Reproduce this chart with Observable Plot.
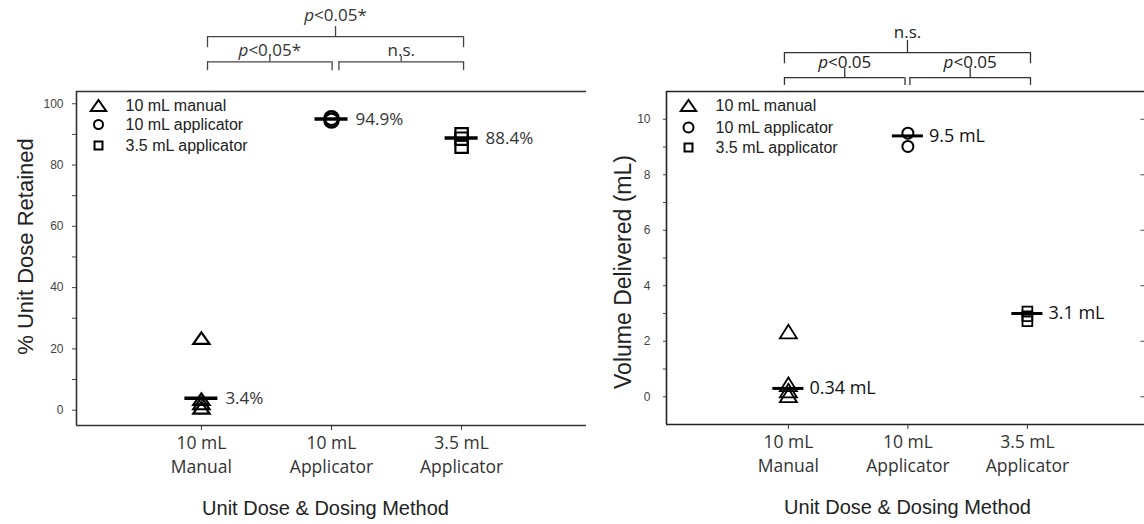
<!DOCTYPE html>
<html>
<head>
<meta charset="utf-8">
<script src="https://cdn.jsdelivr.net/npm/d3@7"></script>
<script src="https://cdn.jsdelivr.net/npm/@observablehq/plot@0.6"></script>
<style>
  html, body { margin: 0; padding: 0; background: #fff; }
  #wrap { position: relative; width: 1144px; height: 524px; overflow: hidden; background: #fff; }
  #left { position: absolute; left: 0; top: 0; }
  #right { position: absolute; left: 600px; top: 0; }
</style>
</head>
<body>
<div id="wrap"><div id="left"></div><div id="right"></div></div>
<script>
// ---------------- DATA ----------------
const categories = ["10 mL\nManual", "10 mL\nApplicator", "3.5 mL\nApplicator"];
const groupNames = ["10 mL manual", "10 mL applicator", "3.5 mL applicator"];
const groupSymbols = ["triangle", "circle", "square"];

// Left panel: % unit dose retained (individual replicates)
const retainedManual10 = [23.5, 3.6, 2.2, 0.8];
const retainedApplicator10 = [95.3, 94.5];
const retainedApplicator35 = [90.0, 88.6, 86.0];
const retainedMeans = [3.9, 95.0, 88.8];
const retainedMeanLabels = ["3.4%", "94.9%", "88.4%"];
const retainedTicks = [0, 20, 40, 60, 80, 100];
const retainedMinorTicks = [10, 30, 50, 70, 90];
const retainedTitle = "% Unit Dose Retained";

// Right panel: volume delivered (mL)
const deliveredManual10 = [2.35, 0.45, 0.22, 0.05];
const deliveredApplicator10 = [9.5, 9.02];
const deliveredApplicator35 = [3.07, 2.9, 2.72];
const deliveredMeans = [0.3, 9.4, 3.0];
const deliveredMeanLabels = ["0.34 mL", "9.5 mL", "3.1 mL"];
const deliveredTicks = [0, 2, 4, 6, 8, 10];
const deliveredMinorTicks = [1, 3, 5, 7, 9];
const deliveredTitle = "Volume Delivered (mL)";

const xTitle = "Unit Dose & Dosing Method";

// Significance brackets: categories compared (1-based), tier, label
const retainedBrackets = [
  {a: 1, b: 3, tier: 2, label: "p<0.05*"},
  {a: 1, b: 2, tier: 1, label: "p<0.05*"},
  {a: 2, b: 3, tier: 1, label: "n.s."}
];
const deliveredBrackets = [
  {a: 1, b: 3, tier: 2, label: "n.s."},
  {a: 1, b: 2, tier: 1, label: "p<0.05"},
  {a: 2, b: 3, tier: 1, label: "p<0.05"}
];

// ---------------- DRAWING ----------------
const wideTriangle = (k) => ({
  draw(ctx, size) {
    const r = Math.sqrt(size / Math.PI);
    ctx.moveTo(0, -r);
    ctx.lineTo(r * k, r);
    ctx.lineTo(-r * k, r);
    ctx.closePath();
  }
});

function symbolFor(name, k) {
  return name === "triangle" ? wideTriangle(k) : name;
}

function buildPanel(cfg) {
  const groups = [cfg.g1, cfg.g2, cfg.g3];
  const marks = [];

  // frame lines (top, bottom, left)
  marks.push(Plot.ruleY([cfg.yDomain[0], cfg.yDomain[1]], {stroke: cfg.frameColor, strokeWidth: 1.4}));
  marks.push(Plot.ruleX([cfg.xDomain[0]], {stroke: cfg.frameColor, strokeWidth: 1.6}));

  // axes
  marks.push(Plot.axisY({ticks: cfg.yTicks, tickSize: cfg.yTickSize, tickPadding: cfg.yTickPadding,
    fontSize: 12, fontFamily: "Liberation Sans", color: "#444", label: null}));
  marks.push(Plot.axisY({ticks: cfg.yMinor, tickSize: cfg.yTickSize, tickFormat: () => "", color: "#444", label: null}));
  marks.push(Plot.axisX({ticks: [1, 2, 3], tickFormat: d => categories[d - 1], tickSize: 5, tickPadding: 1,
    fontSize: 17.5, fontFamily: "Open Sans", lineHeight: 1.4, color: "#333", label: null}));
  if (cfg.rightTicks) {
    marks.push(Plot.ruleY(cfg.yTicks, {y: d => d, x1: cfg.xDomain[1] - 0.03, x2: cfg.xDomain[1], stroke: "#444", strokeWidth: 1}));
  }

  // data points
  groups.forEach((vals, i) => {
    const st = cfg.sym[i];
    marks.push(Plot.dot(vals.map(v => ({pos: i + 1, value: v})), {
      x: "pos", y: "value", symbol: symbolFor(groupSymbols[i], st.k), r: st.r,
      stroke: "black", strokeWidth: st.sw, fill: "none"
    }));
  });

  // mean lines and labels
  const means = cfg.means.map((v, i) => ({pos: i + 1, value: v, label: cfg.meanLabels[i]}));
  marks.push(Plot.ruleY(means, {y: "value", x1: d => d.pos - cfg.meanHalf, x2: d => d.pos + cfg.meanHalf,
    stroke: "black", strokeWidth: cfg.meanWidth}));
  marks.push(Plot.text(means, {x: "pos", y: "value", text: "label", dx: cfg.meanDx, textAnchor: "start",
    lineAnchor: "middle", fontSize: cfg.meanFont, fontFamily: "Open Sans", fill: cfg.meanColor}));

  // legend
  groupNames.forEach((name, i) => {
    const ls = cfg.legendSym[i];
    marks.push(Plot.dot([name], {frameAnchor: "top-left", dx: cfg.legend.sx, dy: cfg.legend.dy[i],
      symbol: symbolFor(groupSymbols[i], ls.k), r: ls.r, stroke: "black", strokeWidth: 2, fill: "none"}));
    marks.push(Plot.text([name], {frameAnchor: "top-left", dx: cfg.legend.tx, dy: cfg.legend.dy[i], text: d => d,
      textAnchor: "start", lineAnchor: "middle", fontSize: cfg.legend.font, fontFamily: "Liberation Sans", fill: "#222"}));
  });

  // brackets
  const br = cfg.brackets.map(b => {
    const sameTier = cfg.brackets.filter(o => o !== b && o.tier === b.tier);
    const sharedStart = sameTier.some(o => o.b === b.a);
    const sharedEnd = sameTier.some(o => o.a === b.b);
    const x1 = b.a + cfg.bs.start + (sharedStart ? cfg.bs.gap : 0);
    const x2 = b.b + cfg.bs.end - (sharedEnd ? cfg.bs.gap : 0);
    const t = cfg.tiers[b.tier];
    return {x1, x2, xc: (x1 + x2) / 2, line: t.line, end: t.end, tick: t.tick, textY: t.textY, label: b.label};
  });
  const ends = br.flatMap(b => [{x: b.x1, y1: b.line, y2: b.end}, {x: b.x2, y1: b.line, y2: b.end}]);
  marks.push(Plot.ruleY(br, {y: "line", x1: "x1", x2: "x2", stroke: cfg.bracketColor, strokeWidth: 1.3}));
  marks.push(Plot.ruleX(ends, {x: "x", y1: "y1", y2: "y2", stroke: cfg.bracketColor, strokeWidth: 1.3}));
  marks.push(Plot.ruleX(br, {x: "xc", y1: "line", y2: "tick", stroke: cfg.bracketColor, strokeWidth: 1.3}));
  marks.push(Plot.text(br, {x: "xc", y: "textY", text: "label", textAnchor: "middle", lineAnchor: "middle",
    fontSize: 17, fontFamily: "Open Sans", fill: cfg.bracketText}));

  // axis titles
  marks.push(Plot.text([xTitle], {frameAnchor: "bottom", dx: cfg.xTitleDx, dy: 83, text: d => d,
    textAnchor: "middle", lineAnchor: "middle", fontSize: 20, fontFamily: "Liberation Sans", fill: "#222"}));
  marks.push(Plot.text([cfg.yTitle], {frameAnchor: "left", rotate: -90, dx: cfg.yTitleDx, dy: cfg.yTitleDy, text: d => d,
    textAnchor: "middle", lineAnchor: "middle", fontSize: cfg.yTitleFont, fontFamily: "Liberation Sans", fill: "#222"}));

  const svg = Plot.plot({
    width: cfg.width, height: 524,
    marginLeft: cfg.margin[0], marginRight: cfg.margin[1], marginTop: cfg.margin[2], marginBottom: cfg.margin[3],
    x: {type: "linear", domain: cfg.xDomain},
    y: {type: "linear", domain: cfg.yDomain},
    style: {background: "transparent", overflow: "visible"},
    marks
  });

  // italic "p" in significance labels
  svg.querySelectorAll("text").forEach(t => {
    if (t.children.length === 0 && t.textContent.startsWith("p<")) {
      const rest = t.textContent.slice(1);
      t.textContent = "";
      const ns = "http://www.w3.org/2000/svg";
      const a = document.createElementNS(ns, "tspan"); a.setAttribute("font-style", "italic"); a.textContent = "p";
      const b = document.createElementNS(ns, "tspan"); b.textContent = rest;
      t.append(a, b);
    }
  });
  return svg;
}

const left = buildPanel({
  width: 600, margin: [76, 14, 91, 99],
  xDomain: [0.04, 3.96], yDomain: [-5, 104],
  yTicks: retainedTicks, yMinor: retainedMinorTicks, yTickSize: 4, yTickPadding: 9,
  g1: retainedManual10, g2: retainedApplicator10, g3: retainedApplicator35,
  sym: [{r: 5.8, k: 1.4, sw: 2.2}, {r: 7, sw: 2.5}, {r: 7, sw: 2.2}],
  means: retainedMeans, meanLabels: retainedMeanLabels, meanHalf: 0.127, meanWidth: 3.5,
  meanDx: 24, meanFont: 17, meanColor: "#333",
  legend: {sx: 22, tx: 49, dy: [14, 33, 54], font: 16},
  legendSym: [{r: 5.5, k: 1.4}, {r: 4.5}, {r: 4.5}],
  brackets: retainedBrackets, bs: {start: 0.047, end: 0.015, gap: 0.01},
  tiers: {1: {line: 113.7, end: 110.8, tick: 115.4, textY: 117.4}, 2: {line: 121.9, end: 118.3, tick: 125.2, textY: 128.8}},
  bracketColor: "#444", bracketText: "#333", frameColor: "#333",
  xTitleDx: -6, yTitle: retainedTitle, yTitleDx: -51, yTitleDy: -12, yTitleFont: 22
});

const right = buildPanel({
  width: 544, margin: [66, 0, 91, 100],
  xDomain: [-0.02, 3.98], yDomain: [-1, 11],
  yTicks: deliveredTicks, yMinor: deliveredMinorTicks, yTickSize: 3, yTickPadding: 13, rightTicks: true,
  g1: deliveredManual10, g2: deliveredApplicator10, g3: deliveredApplicator35,
  sym: [{r: 6.8, k: 1.25, sw: 1.8}, {r: 5.5, sw: 2}, {r: 5.5, sw: 1.8}],
  means: deliveredMeans, meanLabels: deliveredMeanLabels, meanHalf: 0.13, meanWidth: 3,
  meanDx: 21, meanFont: 18, meanColor: "#111",
  legend: {sx: 22, tx: 49, dy: [14, 36, 56], font: 16},
  legendSym: [{r: 5.5, k: 1.4}, {r: 5}, {r: 4.5}],
  brackets: deliveredBrackets, bs: {start: -0.033, end: 0.026, gap: 0.05},
  tiers: {1: {line: 11.5, end: 11.22, tick: 11.83, textY: 12.05}, 2: {line: 12.4, end: 12.0, tick: 12.84, textY: 13.12}},
  bracketColor: "#333", bracketText: "#222", frameColor: "#222",
  xTitleDx: 2, yTitle: deliveredTitle, yTitleDx: -43, yTitleDy: 14, yTitleFont: 23
});

document.getElementById("left").append(left);
document.getElementById("right").append(right);
</script>
</body>
</html>
